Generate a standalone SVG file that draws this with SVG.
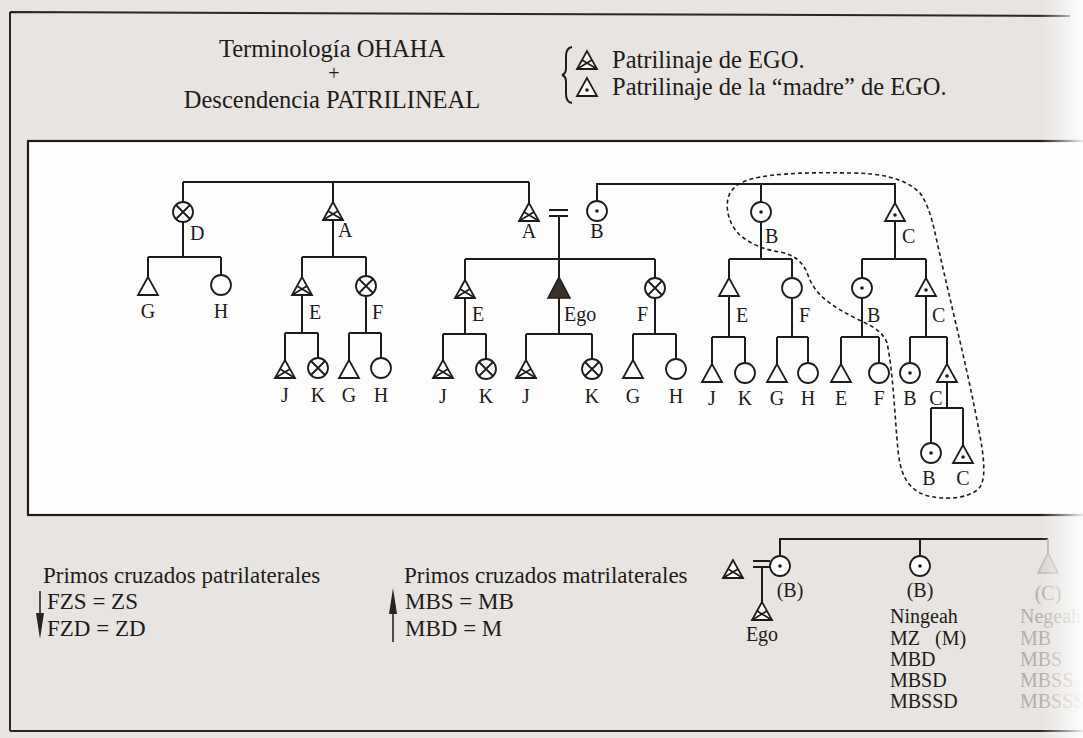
<svg xmlns="http://www.w3.org/2000/svg" xmlns:xlink="http://www.w3.org/1999/xlink" width="1083" height="738" viewBox="0 0 1083 738">
<style>
text{font-family:"Liberation Serif","Times New Roman",serif;fill:#1e1b19}
.h{font-size:24.5px}
.p{font-size:20px}
.t{font-size:20px}
.b{font-size:23px}
.s{font-size:20px}
.f{font-size:20px;fill:#a59c92}
.ln{stroke:#1e1b19;stroke-width:2;fill:none}
.sym{stroke:#1e1b19;stroke-width:1.8;fill:#fff}
.c{text-anchor:middle}
</style>
<defs>
<g id="tri"><polygon points="0,0 -10,18 10,18" class="sym"/></g>
<g id="etri"><polygon points="0,0 -10,18 10,18" class="sym"/><path d="M-10,18 L5,9 M10,18 L-5,9" class="sym" fill="none"/></g>
<g id="dtri"><polygon points="0,0 -10,18 10,18" class="sym"/><circle cx="0" cy="12" r="1.8" fill="#1e1b19"/></g>
<g id="circ"><circle cx="0" cy="10" r="10" class="sym"/></g>
<g id="xcirc"><circle cx="0" cy="10" r="10" class="sym"/><path d="M-7,3 L7,17 M7,3 L-7,17" stroke="#1e1b19" stroke-width="1.8"/></g>
<g id="dcirc"><circle cx="0" cy="10" r="10" class="sym"/><circle cx="0" cy="10" r="1.8" fill="#1e1b19"/></g>
<linearGradient id="curl" x1="0" x2="1" y1="0" y2="0">
<stop offset="0" stop-color="#ffffff" stop-opacity="0"/>
<stop offset="1" stop-color="#ffffff" stop-opacity="0.9"/>
</linearGradient>
</defs>

<rect x="0" y="0" width="1083" height="738" fill="#e7e4e1"/>
<!-- page frame -->
<path d="M10,12 L1070,16 M10,12 V731 M10,731 H1083" stroke="#2a2624" stroke-width="2" fill="none"/>
<rect x="28" y="141" width="1070" height="374" fill="#fdfdfd" stroke="#1e1b19" stroke-width="2.2"/>

<!-- header -->
<g id="header">
<text class="h c" x="332" y="57">Terminología OHAHA</text>
<text class="p c" x="334" y="80">+</text>
<text class="h c" x="332" y="108">Descendencia PATRILINEAL</text>
<path d="M572,47 Q566,48 566,56 V68 Q566,74 562,75 Q566,76 566,82 V94 Q566,102 572,103" class="ln" stroke-width="1.6"/>
<use href="#etri" x="587" y="51"/>
<text class="h" x="612" y="68">Patrilinaje de EGO.</text>
<use href="#dtri" x="587" y="78"/>
<text class="h" x="612" y="95">Patrilinaje de la “madre” de EGO.</text>
</g>

<!-- connectors -->
<g id="connectors" class="ln">
<path d="M183,182 H529 M183,182 V202 M333,182 V202 M529,182 V203"/>
<path d="M549,210 H568 M549,216 H568 M559,216 V277"/>
<path d="M597,201 V184 H895 V203 M761,184 V202"/>
<path d="M183,222 V257 M148,257 H221 M148,257 V277 M221,257 V275"/>
<path d="M333,220 V257 M302,257 H366 M302,257 V277 M366,257 V276"/>
<path d="M465,259 H655 M465,259 V280 M655,259 V278"/>
<path d="M761,222 V259 M729,259 H792 M729,259 V278 M792,259 V278"/>
<path d="M895,221 V259 M862,259 H926 M862,259 V278 M926,259 V278"/>
<path d="M302,295 V333 M285,333 H318 M285,333 V360 M318,333 V358"/>
<path d="M366,296 V333 M349,333 H381 M349,333 V360 M381,333 V358"/>
<path d="M465,298 V334 M443,334 H486 M443,334 V360 M486,334 V359"/>
<path d="M559,298 V334 M526,334 H592 M526,334 V360 M592,334 V359"/>
<path d="M655,298 V334 M633,334 H676 M633,334 V360 M676,334 V359"/>
<path d="M729,296 V337 M712,337 H745 M712,337 V364 M745,337 V363"/>
<path d="M792,298 V337 M777,337 H808 M777,337 V364 M808,337 V363"/>
<path d="M862,298 V337 M841,337 H879 M841,337 V364 M879,337 V363"/>
<path d="M926,296 V337 M910,337 H947 M910,337 V363 M947,337 V364"/>
<path d="M947,382 V408 M931,408 H963 M931,408 V443 M963,408 V445"/>
</g>

<!-- dashed loop -->
<path id="loop" d="M743,182 C760,174 800,172 850,173 C880,173 905,178 920,193 C932,210 935,235 940,255 C950,300 965,360 975,410 C982,445 988,475 980,487 C970,500 940,500 925,495 C905,488 900,470 898,450 C895,420 893,370 887,343 C882,330 870,325 855,318 C830,305 815,295 808,275 C803,262 795,255 780,252 C765,250 750,244 740,235 C728,224 724,205 730,193 C734,187 738,184 743,182 Z" fill="none" stroke="#1e1b19" stroke-width="1.6" stroke-dasharray="4 3"/>

<!-- generation 1 -->
<g id="D1"><use href="#xcirc" x="183" y="202"/><text class="t" x="190" y="240">D</text></g>
<g id="A1"><use href="#etri" x="333" y="202"/><text class="t" x="338" y="237">A</text></g>
<g id="A2"><use href="#etri" x="529" y="203"/><text class="t c" x="529" y="238">A</text></g>
<g id="B1"><use href="#dcirc" x="597" y="201"/><text class="t c" x="597" y="238">B</text></g>
<g id="B2"><use href="#dcirc" x="761" y="202"/><text class="t" x="765" y="243">B</text></g>
<g id="C1"><use href="#dtri" x="895" y="203"/><text class="t" x="902" y="243">C</text></g>

<!-- generation 2 -->
<g id="G1"><use href="#tri" x="148" y="277"/><text class="t c" x="148" y="318">G</text></g>
<g id="H1"><use href="#circ" x="221" y="275"/><text class="t c" x="221" y="318">H</text></g>
<g id="E1"><use href="#etri" x="302" y="277"/><text class="t" x="309" y="319">E</text></g>
<g id="F1"><use href="#xcirc" x="366" y="276"/><text class="t" x="372" y="319">F</text></g>
<g id="E2"><use href="#etri" x="465" y="280"/><text class="t" x="472" y="321">E</text></g>
<g id="Ego"><polygon points="559,277 548,298 570,298" fill="#3b302a" stroke="#1e1b19" stroke-width="1.5"/><text class="t" x="564" y="321">Ego</text></g>
<g id="F2"><use href="#xcirc" x="655" y="278"/><text class="t" x="637" y="321">F</text></g>
<g id="E3"><use href="#tri" x="729" y="278"/><text class="t" x="736" y="322">E</text></g>
<g id="F3"><use href="#circ" x="792" y="278"/><text class="t" x="799" y="322">F</text></g>
<g id="B3"><use href="#dcirc" x="862" y="278"/><text class="t" x="867" y="322">B</text></g>
<g id="C2"><use href="#dtri" x="926" y="278"/><text class="t" x="932" y="322">C</text></g>

<!-- generation 3 -->
<g id="J1"><use href="#etri" x="285" y="360"/><text class="t c" x="285" y="402">J</text></g>
<g id="K1"><use href="#xcirc" x="318" y="358"/><text class="t c" x="318" y="402">K</text></g>
<g id="G2"><use href="#tri" x="349" y="360"/><text class="t c" x="349" y="402">G</text></g>
<g id="H2"><use href="#circ" x="381" y="358"/><text class="t c" x="381" y="402">H</text></g>
<g id="J2"><use href="#etri" x="443" y="360"/><text class="t c" x="443" y="403">J</text></g>
<g id="K2"><use href="#xcirc" x="486" y="359"/><text class="t c" x="486" y="403">K</text></g>
<g id="J3"><use href="#etri" x="526" y="360"/><text class="t c" x="526" y="403">J</text></g>
<g id="K3"><use href="#xcirc" x="592" y="359"/><text class="t c" x="592" y="403">K</text></g>
<g id="G3"><use href="#tri" x="633" y="360"/><text class="t c" x="633" y="403">G</text></g>
<g id="H3"><use href="#circ" x="676" y="359"/><text class="t c" x="676" y="403">H</text></g>
<g id="J4"><use href="#tri" x="712" y="364"/><text class="t c" x="712" y="405">J</text></g>
<g id="K4"><use href="#circ" x="745" y="363"/><text class="t c" x="745" y="405">K</text></g>
<g id="G4"><use href="#tri" x="777" y="364"/><text class="t c" x="777" y="405">G</text></g>
<g id="H4"><use href="#circ" x="808" y="363"/><text class="t c" x="808" y="405">H</text></g>
<g id="E4"><use href="#tri" x="841" y="364"/><text class="t c" x="841" y="405">E</text></g>
<g id="F4"><use href="#circ" x="879" y="363"/><text class="t c" x="879" y="405">F</text></g>
<g id="B4"><use href="#dcirc" x="910" y="363"/><text class="t c" x="910" y="405">B</text></g>
<g id="C3"><use href="#dtri" x="947" y="364"/><text class="t c" x="936" y="405">C</text></g>

<!-- generation 4 -->
<g id="B5"><use href="#dcirc" x="931" y="443"/><text class="t c" x="929" y="485">B</text></g>
<g id="C4"><use href="#dtri" x="963" y="445"/><text class="t c" x="963" y="485">C</text></g>

<!-- bottom legend -->
<g id="patri">
<text class="b" x="43" y="583">Primos cruzados patrilaterales</text>
<text class="b" x="47" y="609">FZS = ZS</text>
<text class="b" x="47" y="636">FZD = ZD</text>
<path d="M40,591 V616" stroke="#2a2420" stroke-width="1.6"/>
<polygon points="36,613 44,613 40,639" fill="#2a2420"/>
</g>
<g id="matri">
<text class="b" x="404" y="583">Primos cruzados matrilaterales</text>
<text class="b" x="405" y="609">MBS = MB</text>
<text class="b" x="405" y="636">MBD = M</text>
<path d="M393,612 V642" stroke="#2a2420" stroke-width="1.6"/>
<polygon points="389,614 397,614 393,588" fill="#2a2420"/>
</g>

<!-- bottom kin diagram -->
<g id="bconnectors" class="ln">
<path d="M780,556 V539 H1048 M920,539 V556"/>
<path d="M753,561 H770 M753,567 H770 M762,567 V602"/>
</g>
<path d="M1048,539 V553" stroke="#b9b1a8" stroke-width="2"/>
<g id="bA"><use href="#etri" x="733" y="560"/></g>
<g id="bEgo"><use href="#etri" x="762" y="602"/><text class="s c" x="762" y="641">Ego</text></g>
<g id="bB1"><use href="#dcirc" x="780" y="556"/><text class="s c" x="790" y="597">(B)</text></g>
<g id="bB2"><use href="#dcirc" x="920" y="556"/><text class="s c" x="920" y="597">(B)</text>
<text class="s" x="890" y="623">Ningeah</text>
<text class="s" x="890" y="645">MZ</text><text class="s" x="935" y="645">(M)</text>
<text class="s" x="890" y="666">MBD</text>
<text class="s" x="890" y="687">MBSD</text>
<text class="s" x="890" y="708">MBSSD</text>
</g>
<g id="bC" opacity="0.75">
<polygon points="1048,553 1038,573 1058,573" fill="#d8d2cb" stroke="#b0a79d" stroke-width="1.5"/>
<text class="f c" x="1048" y="600">(C)</text>
<text class="f" x="1020" y="623">Negeah</text>
<text class="f" x="1020" y="645">MB</text>
<text class="f" x="1020" y="666">MBS</text>
<text class="f" x="1020" y="687">MBSS</text>
<text class="f" x="1020" y="708">MBSSS</text>
</g>
<rect x="1040" y="0" width="43" height="738" fill="url(#curl)"/>
</svg>
